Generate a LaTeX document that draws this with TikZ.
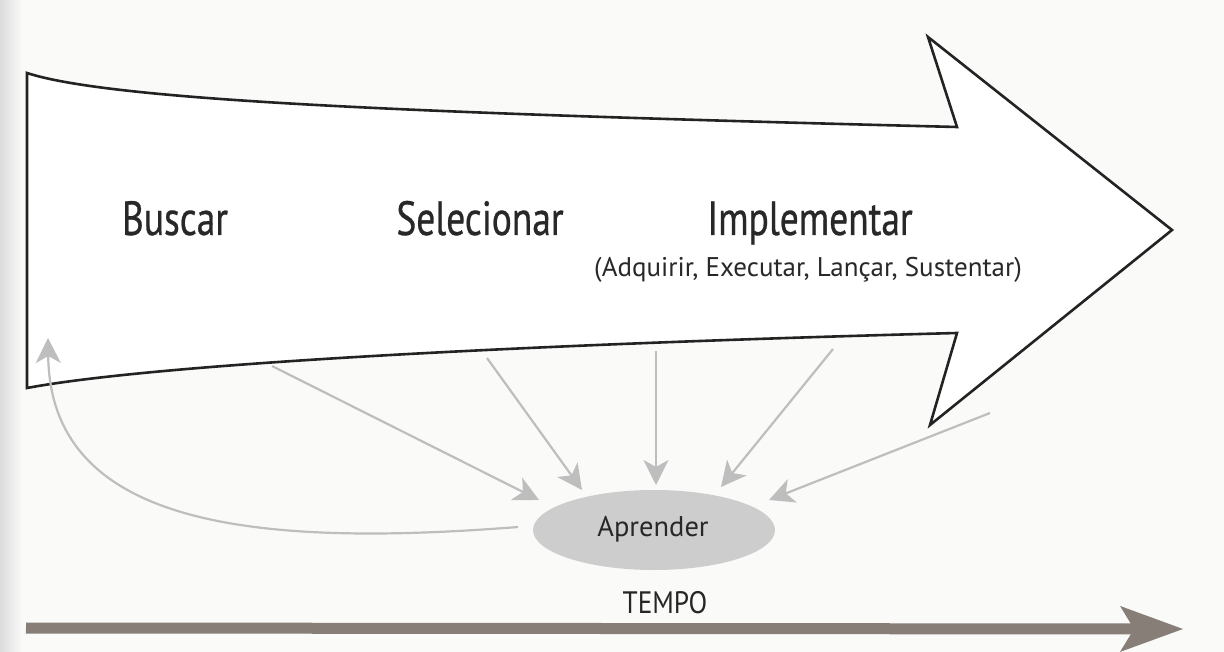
\documentclass[tikz,border=0pt]{standalone}
\usepackage{fontspec}
\setmainfont{PT Sans}
\newfontfamily\condfont[FakeStretch=0.78,FakeBold=0.6]{PT Sans}
\newfontfamily\tempofont[FakeStretch=0.88]{PT Sans}
\usetikzlibrary{arrows.meta,shapes.geometric}
\definecolor{outline}{RGB}{35,35,35}
\definecolor{txt}{RGB}{40,40,40}
\definecolor{lgray}{RGB}{190,190,190}
\definecolor{efill}{RGB}{205,205,205}
\definecolor{barcol}{RGB}{135,126,120}
\definecolor{paper}{RGB}{250,250,249}
\tikzset{
  bigarrow/.style={draw=outline, line width=2.6pt, line join=miter, fill=white},
  biglabel/.style={anchor=base, inner sep=0pt, text=txt, font=\condfont\fontsize{48}{50}\selectfont},
  sublabel/.style={anchor=base, inner sep=0pt, text=txt, font=\fontsize{27}{30}\selectfont},
  feed/.style={draw=lgray, line width=2.2pt, -{Stealth[length=25pt,width=25pt,inset=7pt]}},
  learn/.style={ellipse, fill=efill, minimum width=242pt, minimum height=80pt, inner sep=0pt},
  timebar/.style={draw=barcol, line width=11pt, -{Stealth[length=63pt,width=46pt,inset=14pt,line width=0pt]}}
}
\begin{document}
\begin{tikzpicture}[x=1pt,y=-1pt]
\useasboundingbox (0,0) rectangle (1224,652);
\fill[paper] (0,0) rectangle (1224,652);
\shade[left color=black!14, right color=paper] (0,0) rectangle (22,652);

% big process arrow
\coordinate (tl) at (27,73);
\coordinate (bl) at (27,388);
\coordinate (nt) at (957,127);
\coordinate (bt) at (928,37);
\coordinate (tip) at (1172,230);
\coordinate (bb) at (930,425);
\coordinate (nb) at (957,333);
\draw[bigarrow] (tl) .. controls (110,100) and (400,113) .. (nt) -- (bt) -- (tip) -- (bb) -- (nb) .. controls (500,345) and (150,365) .. (bl) -- cycle;

% labels
\node[biglabel] (buscar) at (175,235) {Buscar};
\node[biglabel] (selec) at (480,235) {Selecionar};
\node[biglabel] (impl) at (810,235) {Implementar};
\node[sublabel] (sub) at (808,277) {(Adquirir, Executar, Lançar, Sustentar)};

% learning ellipse
\node[learn] (apr) at (654,530) {};
\node[sublabel, font=\fontsize{28.5}{30}\selectfont] (aprt) at (653,536) {Aprender};

% feedback arrows
\coordinate (s1) at (272,366);
\coordinate (e1) at (539,500);
\coordinate (s2) at (487,358);
\coordinate (e2) at (582,490);
\coordinate (s3) at (656,351);
\coordinate (e3) at (656,485);
\coordinate (s4) at (833,349);
\coordinate (e4) at (721,487);
\coordinate (s5) at (990,413);
\coordinate (e5) at (769,500);
\draw[feed] (s1) -- (e1);
\draw[feed] (s2) -- (e2);
\draw[feed] (s3) -- (e3);
\draw[feed] (s4) -- (e4);
\draw[feed] (s5) -- (e5);

\coordinate (cs) at (518,527);
\coordinate (ce) at (48,338);
\draw[feed] (cs) .. controls (250,548) and (50,525) .. (ce);

% time axis
\coordinate (t0) at (26,628);
\coordinate (t1) at (1183,629);
\draw[timebar] (t0) -- (t1);
\node[anchor=base, inner sep=0pt, text=black!85, font=\tempofont\fontsize{31}{33}\selectfont] (tempo) at (665,613) {TEMPO};
\end{tikzpicture}
\end{document}
